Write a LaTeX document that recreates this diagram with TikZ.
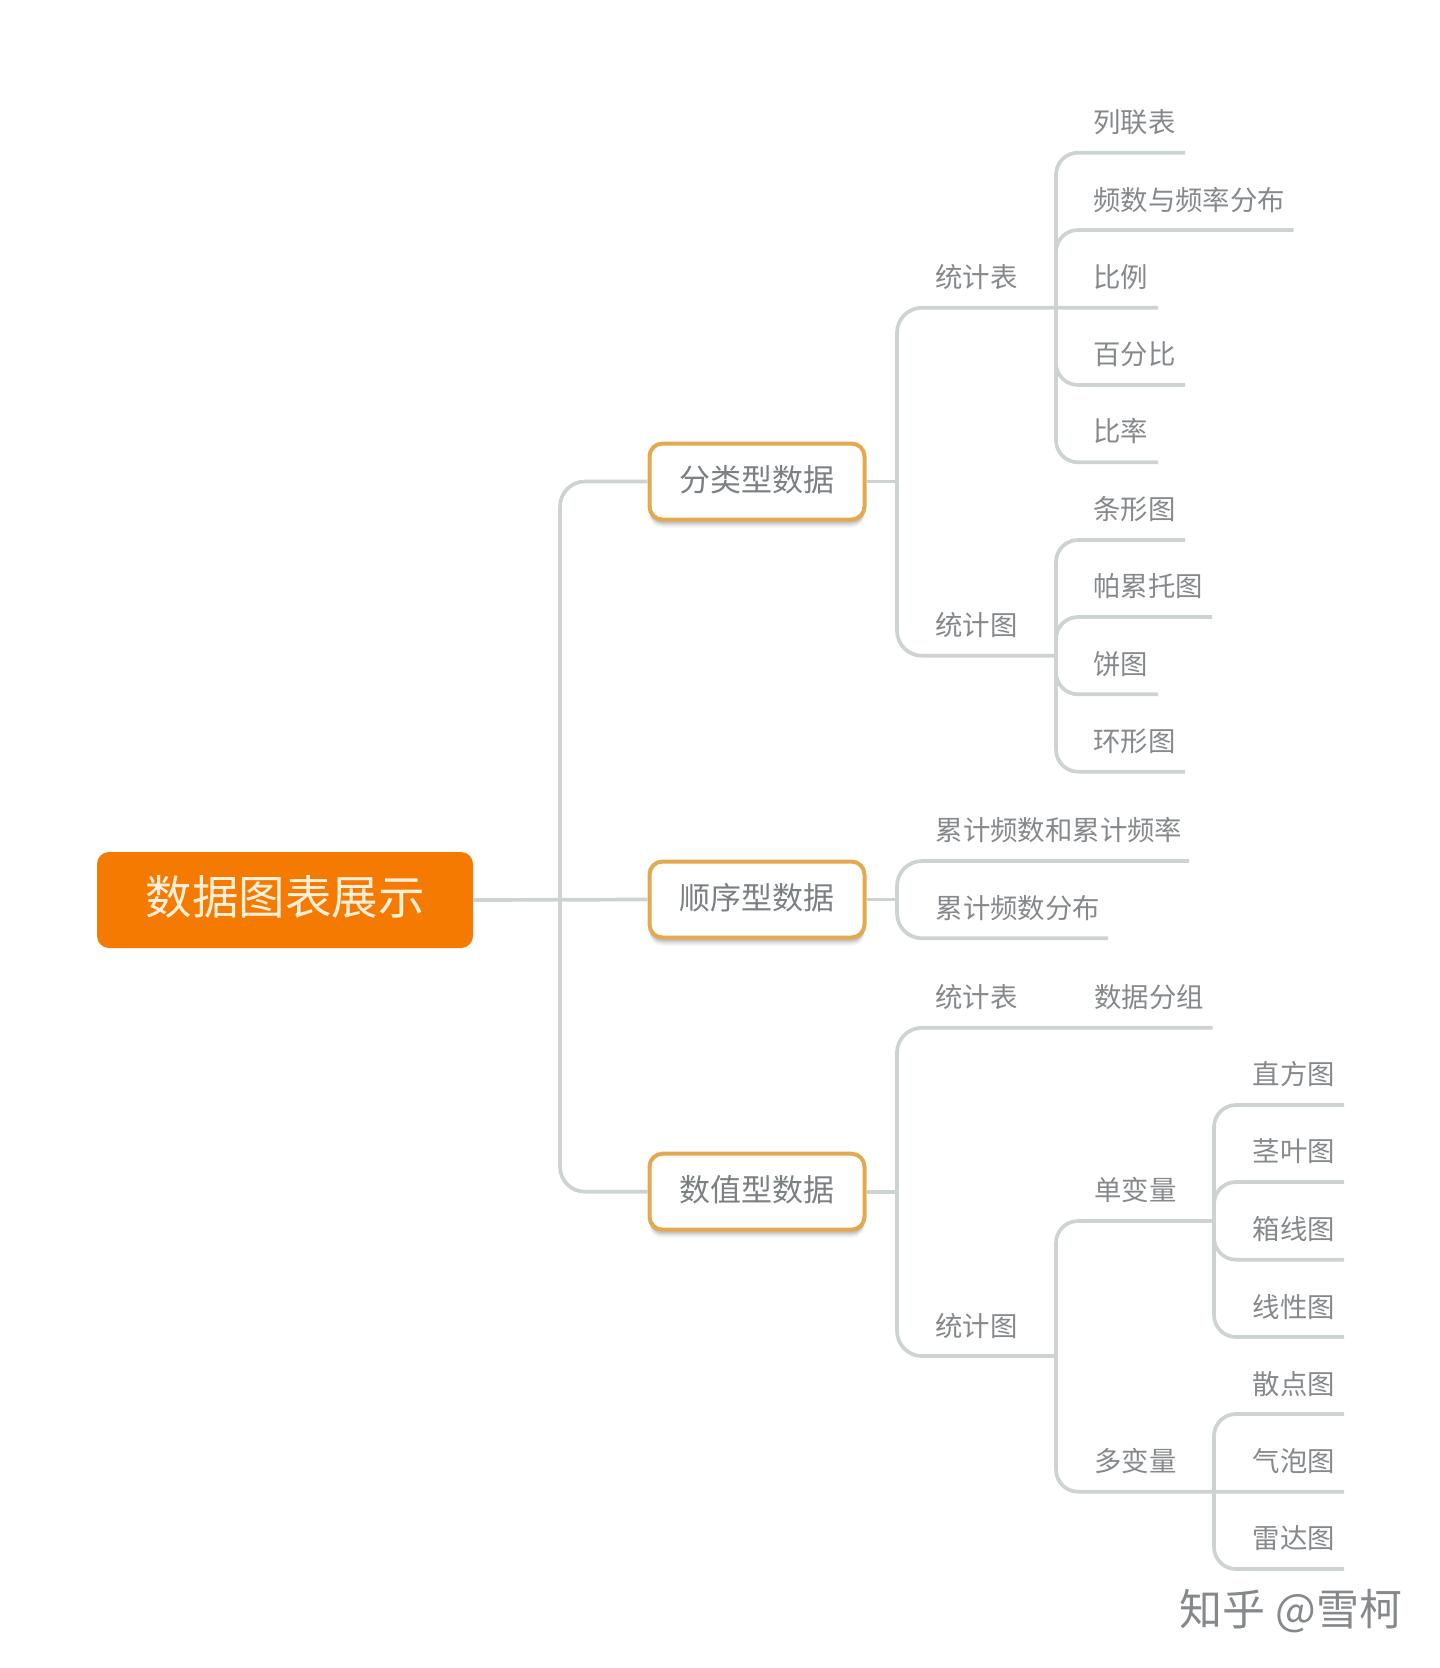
\documentclass[tikz,border=0pt]{standalone}
\usepackage{fontspec}
\setmainfont{Noto Sans CJK SC}
\usetikzlibrary{shadows}
\definecolor{linegrey}{HTML}{CDD2D2}
\definecolor{textgrey}{HTML}{85898C}
\definecolor{boxtext}{HTML}{7B8083}
\definecolor{rootfill}{HTML}{F57A02}
\definecolor{rootedge}{HTML}{E4A84F}
\definecolor{roottext}{HTML}{FDEFD8}
\tikzset{
  conn/.style={draw=linegrey,line width=3.7pt,rounded corners=22pt},
  mainconn/.style={conn,rounded corners=25pt},
  stub/.style={draw=linegrey,line width=3.7pt},
  lbl/.style={anchor=west,inner sep=0pt,text=textgrey,font=\fontsize{27.4}{27.4}\selectfont},
  rootnode/.style={fill=rootfill,rounded corners=12pt,minimum width=376pt,minimum height=96pt,inner sep=0pt,
    text=roottext,font=\fontsize{46.5}{46.5}\selectfont},
  catnode/.style={draw=rootedge,fill=white,line width=4pt,rounded corners=13pt,minimum width=215pt,minimum height=76pt,inner sep=0pt,
    text=boxtext,font=\fontsize{31}{31}\selectfont,
    drop shadow={shadow xshift=0pt,shadow yshift=-8pt,opacity=.05,fill=black},
    drop shadow={shadow xshift=0pt,shadow yshift=-6pt,opacity=.08,fill=black},
    drop shadow={shadow xshift=0pt,shadow yshift=-4pt,opacity=.12,fill=black}},
  wmark/.style={anchor=center,inner sep=0pt,text=textgrey,font=\fontsize{43}{43}\selectfont}
}
\begin{document}
\begin{tikzpicture}[x=1pt,y=-1pt]
\useasboundingbox (0,0) rectangle (1440,1668);
% main nodes
\node[rootnode] (root) at (285,900) {\raisebox{-14.7pt}[0pt][0pt]{数据图表展示}};
\node[catnode] (catA) at (757,481.5) {\raisebox{-9.8pt}[0pt][0pt]{分类型数据}};
\node[catnode] (catB) at (757,899.5) {\raisebox{-9.8pt}[0pt][0pt]{顺序型数据}};
\node[catnode] (catC) at (757,1191.7) {\raisebox{-9.8pt}[0pt][0pt]{数值型数据}};
% junctions
\coordinate (jRoot) at (560,899.5);
\coordinate (jA) at (897,481.5);
\coordinate (jB) at (897,899.5);
\coordinate (jC) at (897,1191.7);
\coordinate (jAtab) at (1056,307.7);
\coordinate (jAfig) at (1056,655.7);
\coordinate (jCfig) at (1056,1356);
\coordinate (jCuni) at (1214,1221);
\coordinate (jCmul) at (1214,1491.7);
% free ends
\coordinate (eA1) at (1185,152.7);
\coordinate (eA2) at (1293.5,230);
\coordinate (eA3) at (1158,307.7);
\coordinate (eA4) at (1185,385);
\coordinate (eA5) at (1158,462.3);
\coordinate (eA6) at (1185,540);
\coordinate (eA7) at (1212,617);
\coordinate (eA8) at (1158,694.3);
\coordinate (eA9) at (1185,771.7);
\coordinate (eB1) at (1189,861);
\coordinate (eB2) at (1108,938.3);
\coordinate (eC1) at (1212.7,1027.7);
\coordinate (eU1) at (1344,1105);
\coordinate (eU2) at (1344,1182);
\coordinate (eU3) at (1344,1259.7);
\coordinate (eU4) at (1344,1337);
\coordinate (eM1) at (1344,1414);
\coordinate (eM2) at (1344,1491.7);
\coordinate (eM3) at (1344,1569);
% first level
\draw[stub] (root.east) -- (catB.west);
\draw[mainconn] (jRoot) |- (catA.west);
\draw[mainconn] (jRoot) |- (catC.west);
% category A
\draw[stub] (catA.east) -- (jA);
\draw[mainconn] (jA) |- (eA3);
\draw[mainconn] (jA) |- (jAfig);
\foreach \e in {eA1,eA2,eA4,eA5} \draw[conn] (jAtab) |- (\e);
\foreach \e in {eA6,eA7,eA8,eA9} \draw[conn] (jAfig) |- (\e);
% category B
\draw[stub] (catB.east) -- (jB);
\draw[mainconn] (jB) |- (eB1);
\draw[mainconn] (jB) |- (eB2);
% category C
\draw[stub] (catC.east) -- (jC);
\draw[mainconn] (jC) |- (eC1);
\draw[mainconn] (jC) |- (jCfig);
\draw[conn] (jCfig) |- (jCuni);
\draw[conn] (jCfig) |- (eM2);
\foreach \e in {eU1,eU2,eU3,eU4} \draw[conn] (jCuni) |- (\e);
\foreach \e in {eM1,eM3} \draw[conn] (jCmul) |- (\e);
% labels
\node[lbl] (tabA) at (935,276.7) {统计表};
\node[lbl] (figA) at (935,625) {统计图};
\node[lbl] (a1) at (1093,122) {列联表};
\node[lbl] (a2) at (1093,200) {频数与频率分布};
\node[lbl] (a3) at (1093,277) {比例};
\node[lbl] (a4) at (1093,354) {百分比};
\node[lbl] (a5) at (1093,430.5) {比率};
\node[lbl] (a6) at (1093,509.5) {条形图};
\node[lbl] (a7) at (1093,586) {帕累托图};
\node[lbl] (a8) at (1093,664.5) {饼图};
\node[lbl] (a9) at (1093,741) {环形图};
\node[lbl] (b1) at (935.5,830) {累计频数和累计频率};
\node[lbl] (b2) at (935.5,908) {累计频数分布};
\node[lbl] (tabC) at (935,997.5) {统计表};
\node[lbl] (figC) at (935,1326.5) {统计图};
\node[lbl] (c1) at (1094,997.5) {数据分组};
\node[lbl] (uni) at (1094,1190) {单变量};
\node[lbl] (mul) at (1094,1461) {多变量};
\node[lbl] (u1) at (1252.7,1074) {直方图};
\node[lbl] (u2) at (1252.7,1151.5) {茎叶图};
\node[lbl] (u3) at (1252.7,1229) {箱线图};
\node[lbl] (u4) at (1252.7,1307.5) {线性图};
\node[lbl] (m1) at (1252.7,1384) {散点图};
\node[lbl] (m2) at (1252.7,1461) {气泡图};
\node[lbl] (m3) at (1252.7,1538.5) {雷达图};
\node[wmark] (wm) at (1291,1611) {知乎 @雪柯};
\end{tikzpicture}
\end{document}
